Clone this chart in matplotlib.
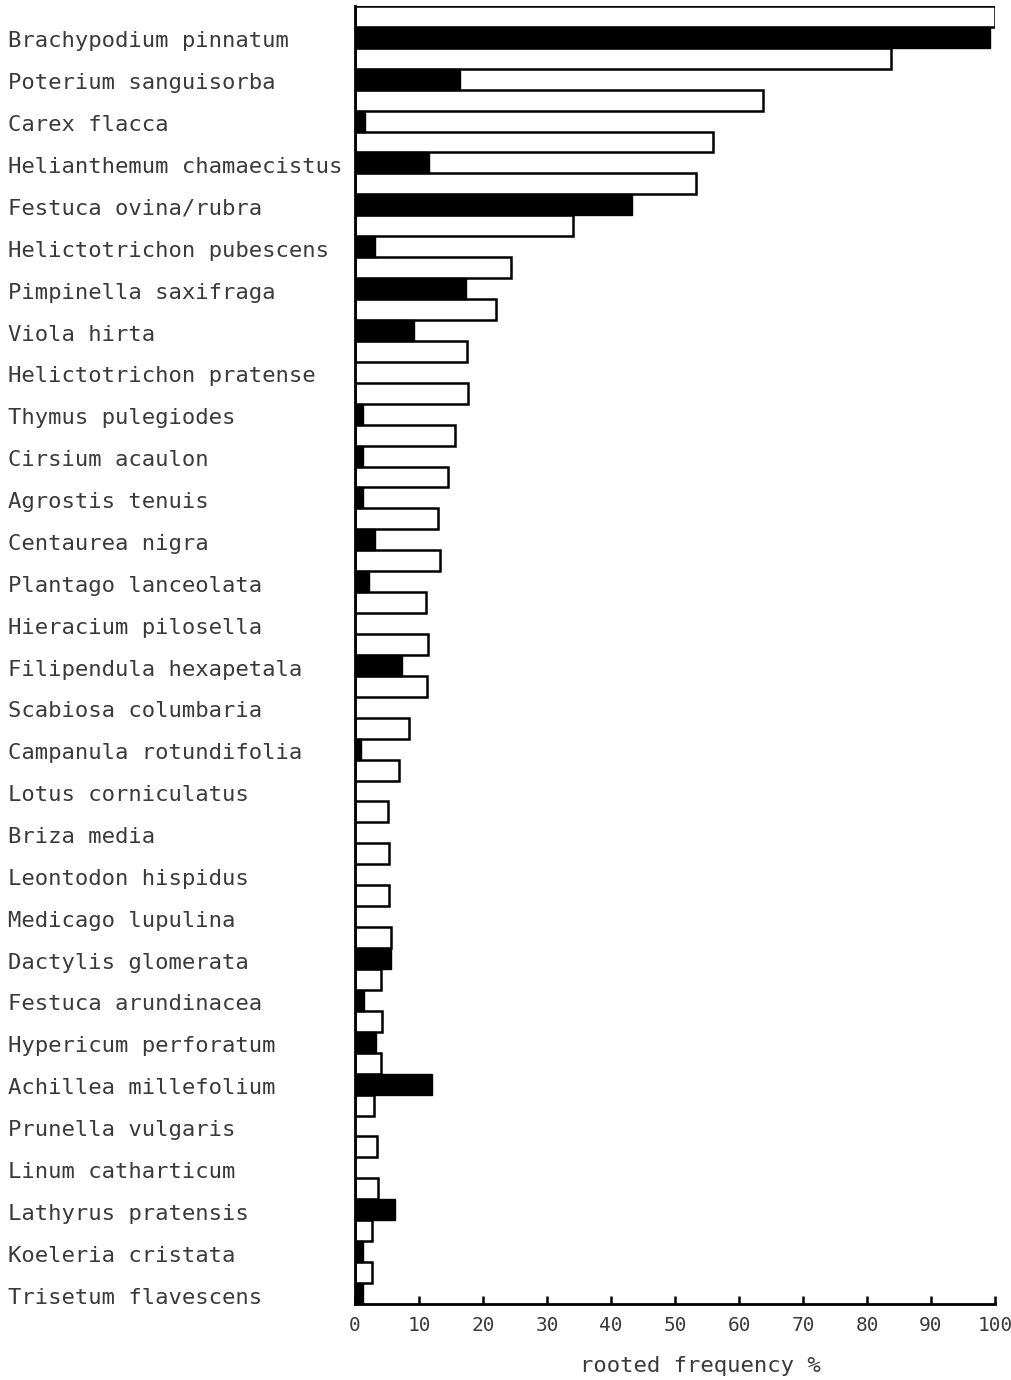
import matplotlib
matplotlib.use("Agg")
import matplotlib.pyplot as plt
import numpy as np

species = [
    "Brachypodium pinnatum", "Poterium sanguisorba", "Carex flacca",
    "Helianthemum chamaecistus", "Festuca ovina/rubra", "Helictotrichon pubescens",
    "Pimpinella saxifraga", "Viola hirta", "Helictotrichon pratense",
    "Thymus pulegiodes", "Cirsium acaulon", "Agrostis tenuis", "Centaurea nigra",
    "Plantago lanceolata", "Hieracium pilosella", "Filipendula hexapetala",
    "Scabiosa columbaria", "Campanula rotundifolia", "Lotus corniculatus",
    "Briza media", "Leontodon hispidus", "Medicago lupulina", "Dactylis glomerata",
    "Festuca arundinacea", "Hypericum perforatum", "Achillea millefolium",
    "Prunella vulgaris", "Linum catharticum", "Lathyrus pratensis",
    "Koeleria cristata", "Trisetum flavescens",
]
# open bars (upper of each pair)
open_vals = [100, 83.7, 63.8, 56.0, 53.3, 34.1, 24.3, 22.1, 17.5, 17.7, 15.6,
             14.5, 13.0, 13.3, 11.1, 11.4, 11.3, 8.4, 6.8, 5.2, 5.3, 5.3, 5.6,
             4.0, 4.2, 4.1, 3.0, 3.4, 3.6, 2.7, 2.7]
# solid bars (lower of each pair)
solid_vals = [99.2, 16.4, 1.5, 11.5, 43.3, 3.2, 17.3, 9.2, 0, 1.3, 1.3,
              1.2, 3.1, 2.2, 0, 7.4, 0, 0.9, 0, 0, 0, 0, 5.6,
              1.4, 3.3, 12.1, 0, 0, 6.3, 1.3, 1.3]
xticks = list(range(0, 101, 10))

fig = plt.figure(figsize=(10.12, 13.8), dpi=100)
ax = fig.add_axes([0.3508, 0.0551, 0.6324, 0.9406])

n = len(species)
y_open = np.arange(n) * 2
y_solid = y_open + 1
ax.barh(y_open, open_vals, height=1.0, color="white", edgecolor="black", linewidth=1.8)
ax.barh(y_solid, solid_vals, height=1.0, color="black", edgecolor="black", linewidth=1.0)

ax.set_ylim(2 * n - 0.5, -0.5)
ax.set_xlim(0, 100)

font = "DejaVu Sans Mono"
txt = "#3a3a3a"
ax.set_yticks(y_solid + 0.1, species, fontsize=16, family=font, color=txt)
for lbl in ax.get_yticklabels():
    lbl.set_horizontalalignment("left")
ax.tick_params(axis="y", length=0, pad=250)

ax.set_xticks(xticks, [str(t) for t in xticks], fontsize=14, family=font, color=txt)
ax.tick_params(axis="x", direction="in", length=6, width=1.8, pad=9)
ax.set_xlabel("rooted frequency %", fontsize=16, family=font, color=txt)
ax.xaxis.set_label_coords(0.54, -0.04)

for s in ["top", "right"]:
    ax.spines[s].set_visible(False)
for s in ["left", "bottom"]:
    ax.spines[s].set_linewidth(2)

fig.savefig("out.png", dpi=100)
